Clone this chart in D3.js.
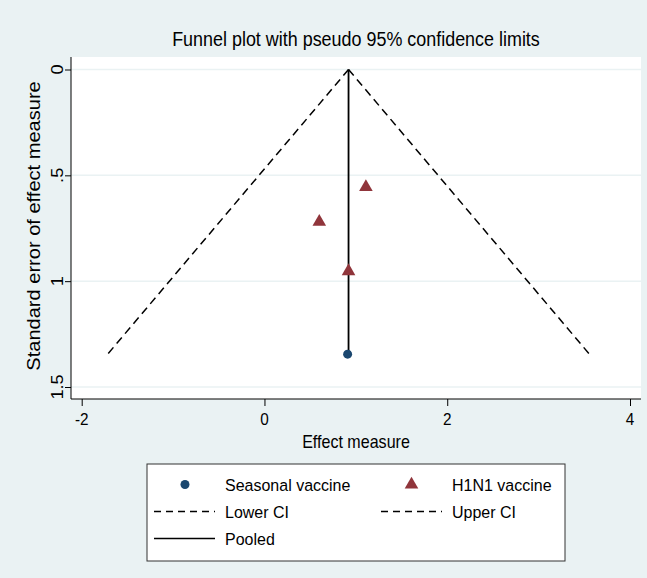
<!DOCTYPE html>
<html>
<head>
<meta charset="utf-8">
<script src="https://cdn.jsdelivr.net/npm/d3@7"></script>
<style>
  html, body { margin: 0; padding: 0; background: #eaf2f3; }
  svg { display: block; }
  text { font-family: "Liberation Sans", Arial, sans-serif; fill: #000; }
</style>
</head>
<body>
<svg id="chart" width="647" height="578"></svg>
<script>
// Study estimates by vaccine type: effect and its standard error
const seasonalEffect = [0.91];
const seasonalSE     = [1.345];
const h1n1Effect     = [1.11, 0.60, 0.92];
const h1n1SE         = [0.556, 0.72, 0.953];

// Pooled estimate and pseudo 95% limits (endpoints at SE = 0 and the largest SE)
const pooledEffect = 0.92;
const pooledSE     = [0, 1.345];
const lowerCI      = [[0.92, 0], [-1.716, 1.345]];
const upperCI      = [[0.92, 0], [3.556, 1.345]];

const xTicks = [-2, 0, 2, 4];
const xTickLabels = ["-2", "0", "2", "4"];
const yTicks = [0, 0.5, 1, 1.5];
const yTickLabels = ["0", ".5", "1", "1.5"];

const titleText = "Funnel plot with pseudo 95% confidence limits";
const xLabel = "Effect measure";
const yLabel = "Standard error of effect measure";
const legendItems = ["Seasonal vaccine", "H1N1 vaccine", "Lower CI", "Upper CI", "Pooled"];

const navy = "#1a476f", maroon = "#90353b", grid = "#eaf2f3";

const svg = d3.select("#chart");
const plot = { left: 71, right: 641, top: 57, bottom: 399 };

const x = d3.scaleLinear().domain([-2, 4]).range([81.7, 630]);
const y = d3.scaleLinear().domain([0, 1.5]).range([69.5, 387]);

// Text in a condensed style: horizontal scale k along the reading direction
function label(parent, px, py, str, size, k, opts = {}) {
  const rot = opts.rotate ? ` rotate(${opts.rotate})` : "";
  return parent.append("text")
    .attr("transform", `translate(${px},${py})${rot} scale(${k},1)`)
    .attr("text-anchor", opts.anchor || "middle")
    .attr("dy", opts.dy || 0)
    .attr("font-size", size)
    .text(str);
}

// plot region
svg.append("rect")
  .attr("x", plot.left).attr("y", plot.top)
  .attr("width", plot.right - plot.left).attr("height", plot.bottom - plot.top)
  .attr("fill", "#fff");

// horizontal gridlines
svg.append("g").selectAll("line").data(yTicks).join("line")
  .attr("x1", plot.left).attr("x2", plot.right)
  .attr("y1", d => y(d)).attr("y2", d => y(d))
  .attr("stroke", grid).attr("stroke-width", 1.5);

// y axis
const yAxis = svg.append("g").attr("transform", `translate(${plot.left},0)`)
  .call(d3.axisLeft(y).tickValues(yTicks).tickSize(6).tickFormat(""));
yAxis.select(".domain").attr("d", `M0,${plot.top}V${plot.bottom}`).attr("stroke", "#000");
yAxis.selectAll(".tick line").attr("stroke", "#000");
yTicks.forEach((t, i) => {
  label(svg, 63, y(t), yTickLabels[i], 16.5, 1.1, { rotate: -90 });
});

// x axis
const xAxis = svg.append("g").attr("transform", `translate(0,${plot.bottom})`)
  .call(d3.axisBottom(x).tickValues(xTicks).tickSize(7).tickFormat(""));
xAxis.select(".domain").attr("d", `M${plot.left},0H${plot.right}`).attr("stroke", "#000");
xAxis.selectAll(".tick line").attr("stroke", "#000");
xTicks.forEach((t, i) => {
  label(svg, x(t), 425, xTickLabels[i], 17, 0.9);
});

// axis titles and chart title
label(svg, 356, 447.5, xLabel, 18.4, 0.873);
label(svg, 40, 226, yLabel, 18, 1.115, { rotate: -90 });
label(svg, 356, 46, titleText, 19.5, 0.92);

// confidence limits
const line = d3.line().x(d => x(d[0])).y(d => y(d[1]));
[lowerCI, upperCI].forEach(seg => {
  svg.append("path").attr("d", line(seg)).attr("fill", "none")
    .attr("stroke", "#000").attr("stroke-width", 1.5).attr("stroke-dasharray", "8,5");
});

// pooled estimate
svg.append("line")
  .attr("x1", x(pooledEffect)).attr("x2", x(pooledEffect))
  .attr("y1", y(pooledSE[0])).attr("y2", y(pooledSE[1]))
  .attr("stroke", "#000").attr("stroke-width", 1.8);

// study markers
const tri = d3.symbol().type(d3.symbolTriangle).size(80);
svg.append("g").selectAll("path").data(h1n1Effect).join("path")
  .attr("d", tri)
  .attr("transform", (d, i) => `translate(${x(d)},${y(h1n1SE[i])})`)
  .attr("fill", maroon);
svg.append("g").selectAll("circle").data(seasonalEffect).join("circle")
  .attr("cx", d => x(d)).attr("cy", (d, i) => y(seasonalSE[i]))
  .attr("r", 4.5).attr("fill", navy);

// legend
const lg = svg.append("g");
lg.append("rect").attr("x", 147).attr("y", 464).attr("width", 418).attr("height", 97)
  .attr("fill", "#fff").attr("stroke", "#333").attr("stroke-width", 1);
const rowY = [484.5, 511.5, 538.5];
lg.append("circle").attr("cx", 185).attr("cy", rowY[0]).attr("r", 4.5).attr("fill", navy);
lg.append("path").attr("d", tri).attr("transform", `translate(411.5,${rowY[0]})`).attr("fill", maroon);
[[154, 215, rowY[1], "7,5"], [381, 442, rowY[1], "7,5"], [154, 215, rowY[2], null]].forEach(s => {
  const l = lg.append("line").attr("x1", s[0]).attr("x2", s[1]).attr("y1", s[2]).attr("y2", s[2])
    .attr("stroke", "#000").attr("stroke-width", s[3] ? 1.4 : 1.5);
  if (s[3]) l.attr("stroke-dasharray", s[3]);
});
const labelPos = [[225, rowY[0]], [452, rowY[0]], [225, rowY[1]], [452, rowY[1]], [225, rowY[2]]];
legendItems.forEach((d, i) => {
  label(lg, labelPos[i][0], labelPos[i][1], d, 17.4, 0.92, { anchor: "start", dy: "0.35em" });
});
</script>
</body>
</html>
